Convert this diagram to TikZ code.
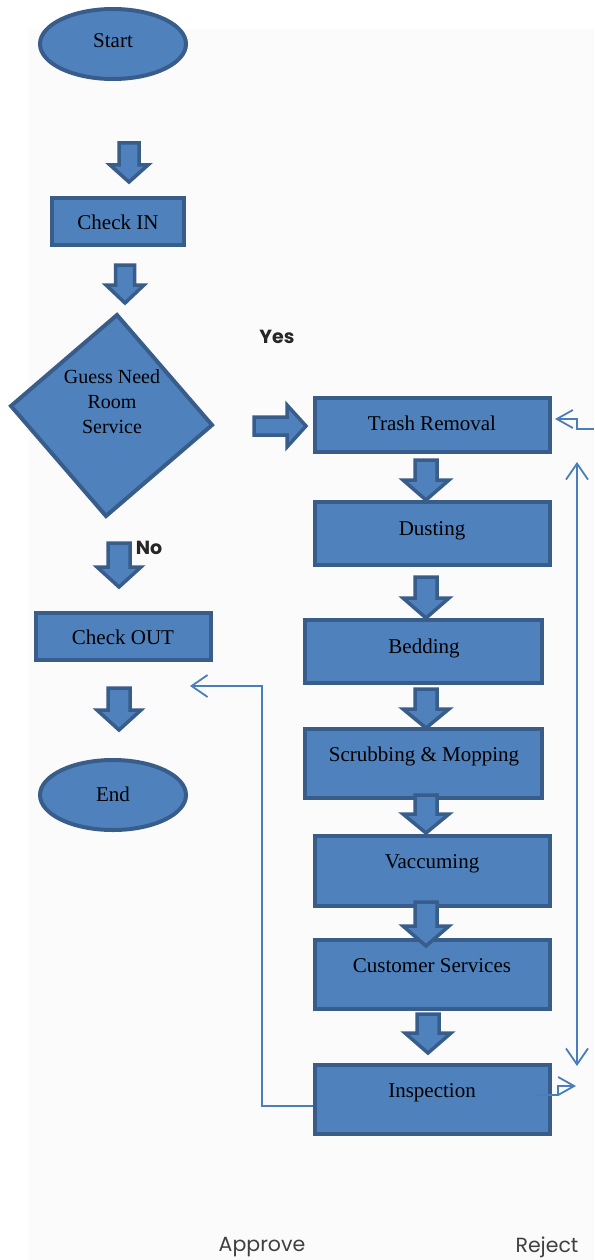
\documentclass[tikz,border=0pt]{standalone}
\usepackage{fontspec}
\setmainfont{Liberation Serif}
\newfontfamily\gothic{Poppins}
\usetikzlibrary{arrows.meta,shapes.geometric,calc}
\definecolor{fillb}{HTML}{4F81BD}
\definecolor{edgeb}{HTML}{385D8A}
\definecolor{lineb}{HTML}{4A7EBB}
\definecolor{bgc}{HTML}{FBFBFB}
\definecolor{lbl}{HTML}{404040}
\newcommand{\bdown}[6]{%
 \draw[barrow] ({#1-#4},#2) -- ({#1+#4},#2) -- ({#1+#4},{#3-#6}) -- ({#1+#5},{#3-#6}) -- (#1,#3) -- ({#1-#5},{#3-#6}) -- ({#1-#4},{#3-#6}) -- cycle;}
\begin{document}
\begin{tikzpicture}[x=1pt,y=-1pt,
 box/.style={draw=edgeb,fill=fillb,line width=4pt,inner sep=0pt},
 oval/.style={ellipse,draw=edgeb,fill=fillb,line width=4pt,inner sep=0pt,minimum width=146pt,minimum height=70pt},
 txt/.style={font=\fontsize{21}{24}\selectfont,text=black,align=center,text height=14pt,text depth=4pt},
 barrow/.style={draw=edgeb,fill=fillb,line width=3.5pt,line join=miter},
 conn/.style={draw=lineb,line width=1.8pt},
 tip/.style={-{Straight Barb[length=16pt,width=22pt,line width=1.8pt]}},
 tipboth/.style={{Straight Barb[length=16pt,width=22pt,line width=1.8pt]}-{Straight Barb[length=16pt,width=22pt,line width=1.8pt]}},
 lab/.style={font=\gothic\fontsize{20.5}{24}\selectfont,text=lbl},
 blab/.style={font=\gothic\bfseries\fontsize{19}{24}\selectfont,text=black!85}]
\useasboundingbox (0,0) rectangle (594,1260);
\fill[bgc] (29,29) rectangle (594,1260);

% terminals
\node[oval] (start) at (113,44) {};
\node[txt] (startt) at (113,43) {Start};
\node[oval] (end) at (113,795) {};
\node[txt] (endt) at (113,796) {End};

% boxes
\node[box,minimum width=132pt,minimum height=47pt] (checkin) at (118,221.5) {};
\node[txt] (checkint) at (118,224) {Check IN};
\node[box,minimum width=175pt,minimum height=47pt] (checkout) at (123.5,636.5) {};
\node[txt] (checkoutt) at (123,639) {Check OUT};
\node[box,minimum width=235pt,minimum height=54pt] (trash) at (432.5,425) {};
\node[txt] (trasht) at (432,425) {Trash Removal};
\node[box,minimum width=235pt,minimum height=63pt] (dust) at (432.5,533.5) {};
\node[txt] (dustt) at (432,530) {Dusting};
\node[box,minimum width=237pt,minimum height=63pt] (bed) at (423.5,651.5) {};
\node[txt] (bedt) at (424,648) {Bedding};
\node[box,minimum width=237pt,minimum height=69pt] (scrub) at (423.5,763.5) {};
\node[txt] (scrubt) at (424,756) {Scrubbing \& Mopping};
\node[box,minimum width=235pt,minimum height=70pt] (vac) at (432.5,871) {};
\node[txt] (vact) at (432,863) {Vaccuming};
\node[box,minimum width=235pt,minimum height=69pt] (cust) at (432.5,974.5) {};
\node[txt] (custt) at (432,967) {Customer Services};
\node[box,minimum width=235pt,minimum height=69pt] (insp) at (432.5,1099.5) {};
\node[txt] (inspt) at (432,1092) {Inspection};

% decision
\draw[box] (117,315) -- (212,425) -- (106,516) -- (11,406) -- cycle;
\node[font=\fontsize{20}{25}\selectfont,align=center] (dec) at (112,402) {Guess Need\\Room\\Service};

% block arrows
\bdown{129}{143}{182}{10}{19}{17}
\bdown{125}{265}{303}{9.5}{19}{18}
\bdown{426}{460}{500}{11}{23}{20}
\bdown{426}{577}{618}{11}{23}{20}
\bdown{426}{689}{728}{11}{23}{19}
\bdown{426}{795}{833}{11}{23}{19}
\bdown{426}{902}{946}{11}{23}{20}
\bdown{428}{1014}{1053}{11}{23}{20}
\bdown{119}{543}{587}{11}{22}{20}
\bdown{119}{688}{730}{11}{22}{20}
\draw[barrow] (254,417) -- (287,417) -- (287,405) -- (306,426) -- (287,447) -- (287,435) -- (254,435) -- cycle;

% labels
\node[blab] (yes) at (277,337) {Yes};
\node[blab] (no) at (149,548) {No};
\node[lab] (approve) at (262,1247) {Approve};
\node[lab] (reject) at (547,1247) {Reject};

% thin connectors
\coordinate (appA) at (262,1106);
\coordinate (appB) at (262,686);
\coordinate (appEnd) at (190,686);
\draw[conn,tip] (insp.west |- appA) -- (appA) -- (appB) -- (appEnd);
\coordinate (rtop) at (577,462);
\coordinate (rbot) at (577,1066);
\draw[conn,tipboth] (rtop) -- (rbot);
\coordinate (rej1) at (535,1095);
\coordinate (rej2) at (576,1086);
\draw[conn,-{Straight Barb[length=16pt,width=18pt,line width=1.8pt]}] (rej1) -- (558,1095) -- (558,1086) -- (rej2);
\coordinate (trIn) at (594,429);
\coordinate (trTip) at (555,419);
\draw[conn,-{Straight Barb[length=16pt,width=18pt,line width=1.8pt]}] (trIn) -- (577,429) -- (577,419) -- (trTip);
\end{tikzpicture}
\end{document}
